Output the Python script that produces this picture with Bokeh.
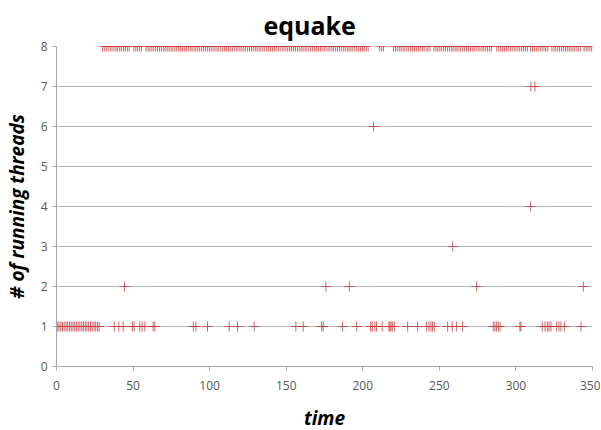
from bokeh.plotting import figure
from bokeh.models import FixedTicker, Range1d
from bokeh.embed import file_html
from bokeh.resources import INLINE

# ---- data (time, # of running threads) ----
t_row1 = [0.5, 1.6, 2.8, 3.9, 5.0, 6.2, 7.3, 8.5, 9.6, 10.8, 11.9, 13.0, 14.2, 15.3,
          16.5, 17.6, 18.8, 19.9, 21.0, 22.2, 23.3, 24.5, 25.6, 26.8, 27.9,
          37.7, 40.7, 43.5, 49.6, 50.7, 54.4, 55.9, 57.7, 63.1, 64.2,
          89.3, 91.0, 98.6, 112.8, 118.2, 129.1, 156.3,
          161.1, 173.1, 174.2, 186.8, 196.0, 205.1, 206.2, 207.9, 209.0, 212.7,
          217.1, 217.7, 218.4, 219.3, 220.6, 229.3, 235.8,
          241.7, 243.2, 244.5, 245.6, 246.7, 255.4, 258.4, 261.3, 265.2,
          285.2, 286.3, 287.4, 288.5, 289.6, 302.6, 303.3,
          317.2, 319.0, 320.5, 321.6, 322.9, 326.6, 328.1, 329.4, 331.6, 342.5]
t_row2 = [44.4, 175.9, 191.2, 274.3, 344.0]
t_row3 = [258.7]
t_row4 = [309.6]
t_row6 = [207.0]
t_row7 = [309.8, 312.4]
t_row8 = [30.0, 31.2, 32.5, 33.7, 35.0, 36.2, 37.5, 38.8, 40.0, 41.3, 42.5, 43.8, 45.0,
          46.3, 47.5, 50.5, 51.8, 53.0, 54.3, 55.5, 58.5, 59.8, 61.0, 62.3, 63.5, 64.8,
          66.0, 67.3, 68.5, 69.8, 71.0, 72.3, 73.5, 74.8, 76.0, 77.3, 78.5, 79.8, 81.0,
          82.3, 83.5, 84.8, 86.0, 87.3, 88.5, 89.8, 91.0, 92.3, 93.5, 94.8, 96.0, 97.3,
          98.5, 99.8, 101.0, 102.3, 103.5, 104.8, 106.0, 107.3, 108.5, 109.8, 111.0,
          112.3, 113.5, 114.8, 116.0, 117.3, 118.5, 119.8, 121.0, 122.3, 123.5, 124.8,
          126.0, 127.3, 128.5, 129.8, 131.0, 132.3, 133.5, 134.8, 136.0, 137.3, 138.5,
          139.8, 141.0, 142.3, 143.5, 144.8, 146.0, 147.3, 148.5, 149.8, 151.0, 152.3,
          153.5, 154.8, 156.0, 157.3, 158.5, 159.8, 161.0, 162.3, 163.5, 164.8, 166.0,
          167.3, 168.5, 169.8, 171.0, 172.3, 173.5, 174.8, 176.0, 177.3, 178.5, 179.8,
          181.0, 182.3, 183.5, 184.8, 186.0, 187.3, 188.5, 189.8, 191.0, 192.3, 193.5,
          194.8, 196.0, 197.3, 198.5, 199.8, 201.0, 202.3, 203.5, 211.0, 212.3, 213.5,
          220.0, 221.3, 222.5, 223.8, 225.0, 226.3, 227.5, 228.8, 230.0, 231.3, 232.5,
          233.8, 235.0, 236.3, 237.5, 238.8, 240.0, 241.3, 242.5, 243.8, 246.5, 247.8,
          249.0, 250.3, 251.5, 252.8, 254.0, 255.3, 256.5, 257.8, 259.0, 260.3, 261.5,
          262.8, 264.0, 265.3, 266.5, 267.8, 269.0, 270.3, 271.5, 272.8, 274.0, 275.3,
          276.5, 277.8, 279.0, 280.3, 281.5, 282.8, 284.0, 287.5, 288.8, 290.0, 291.3,
          292.5, 293.8, 295.0, 296.3, 297.5, 298.8, 300.0, 301.3, 302.5, 303.8, 305.0,
          306.3, 307.5, 309.5, 310.8, 312.0, 313.3, 314.5, 315.8, 317.0, 318.3, 319.5,
          320.8, 323.5, 324.8, 326.0, 327.3, 328.5, 329.8, 331.0, 332.3, 333.5, 334.8,
          336.0, 337.3, 338.5, 339.8, 341.0, 342.3, 344.5, 345.8, 347.0, 348.3, 349.5]

x_ticks = [0, 50, 100, 150, 200, 250, 300, 350]
y_ticks = [0, 1, 2, 3, 4, 5, 6, 7, 8]

xs = t_row1 + t_row2 + t_row3 + t_row4 + t_row6 + t_row7 + t_row8
ys = ([1] * len(t_row1) + [2] * len(t_row2) + [3] * len(t_row3) + [4] * len(t_row4)
      + [6] * len(t_row6) + [7] * len(t_row7) + [8] * len(t_row8))

p = figure(frame_width=536, frame_height=320, output_backend="svg", toolbar_location=None,
           x_range=Range1d(0, 350), y_range=Range1d(0, 8),
           min_border_left=47, min_border_right=8, min_border_top=38, min_border_bottom=20)

p.title.text = "equake"
p.title.align = "left"
p.title.offset = 207
p.title.text_font = "Open Sans"
p.title.text_font_size = "25px"
p.title.text_font_style = "bold"
p.title.text_color = "#000000"

p.outline_line_color = None
p.background_fill_color = "#ffffff"
p.border_fill_color = "#ffffff"

# grid
p.xgrid.grid_line_color = None
p.ygrid.grid_line_color = "#b5b5b5"
p.ygrid.grid_line_width = 1

# axes
p.xaxis.ticker = FixedTicker(ticks=x_ticks)
p.yaxis.ticker = FixedTicker(ticks=y_ticks)
for ax in (p.xaxis[0], p.yaxis[0]):
    ax.axis_line_color = "#a6a6a6"
    ax.major_tick_line_color = "#a6a6a6"
    ax.minor_tick_line_color = None
    ax.major_tick_in = 0
    ax.major_tick_out = 4
    ax.major_label_text_font = "Open Sans"
    ax.major_label_text_font_size = "12px"
    ax.major_label_text_color = "#595959"
    ax.axis_label_text_font = "Open Sans"
    ax.axis_label_text_font_size = "19px"
    ax.axis_label_text_font_style = "bold italic"
    ax.axis_label_text_color = "#000000"

p.xaxis.axis_label = "time"
p.yaxis.axis_label = "# of running threads"
p.xaxis.major_label_standoff = 10
p.yaxis.major_label_standoff = 5
p.xaxis.axis_label_standoff = 12
p.yaxis.axis_label_standoff = 8

p.scatter(xs, ys, marker="cross", size=10, line_color="#c43c3c", line_alpha=0.8, line_width=1)

open("out.html", "w").write(file_html(p, INLINE))
